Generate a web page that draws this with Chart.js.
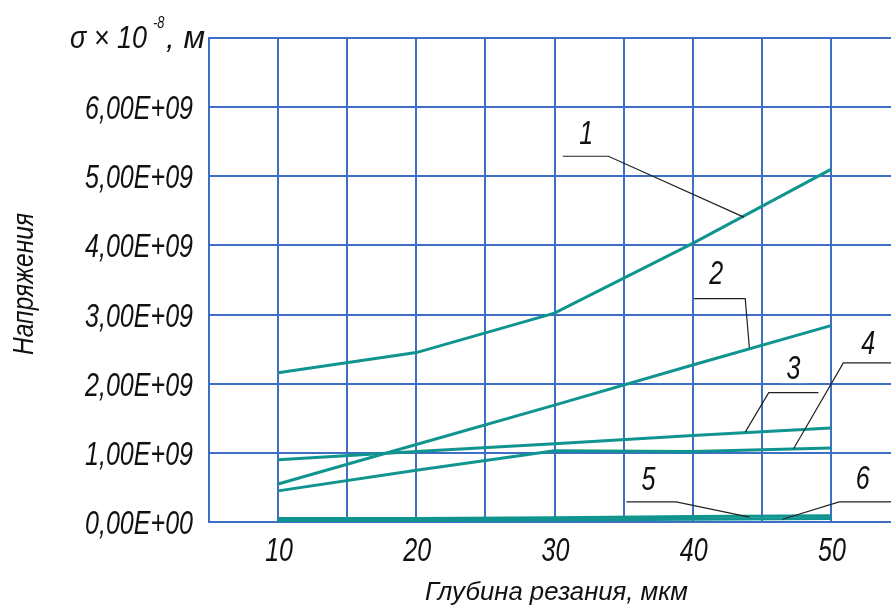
<!DOCTYPE html>
<html>
<head>
<meta charset="utf-8">
<script src="https://cdn.jsdelivr.net/npm/chart.js@4/dist/chart.umd.min.js"></script>
<style>
  html, body { margin: 0; padding: 0; background: #fff; overflow: hidden; }
  canvas { display: block; }
</style>
</head>
<body>
<canvas id="chart" width="900" height="610"></canvas>
<script>
// глубина резания, мкм
const depth = [10, 20, 30, 40, 50];
// напряжения по кривым 1..6
const curve1 = [2.16e9, 2.45e9, 3.02e9, 4.03e9, 5.10e9];
const curve2 = [0.55e9, 1.12e9, 1.69e9, 2.27e9, 2.84e9];
const curve3 = [0.90e9, 1.02e9, 1.13e9, 1.25e9, 1.36e9];
const curve4 = [0.45e9, 0.75e9, 1.03e9, 1.02e9, 1.07e9];
const curve5 = [0.02e9, 0.02e9, 0.03e9, 0.04e9, 0.05e9];
const curve6 = [0.05e9, 0.05e9, 0.06e9, 0.08e9, 0.09e9];
const curves = [curve1, curve2, curve3, curve4, curve5, curve6];

// подписи осей
const xTickLabels = [10, 20, 30, 40, 50];
const xTitle = 'Глубина резания, мкм';
const yTitle = 'Напряжения';

// номера кривых и выноски (в единицах осей)
const labelNames = ['1', '2', '3', '4', '5', '6'];
const labelPos = [[32.3, 5.64e9], [41.7, 3.62e9], [47.3, 2.24e9], [52.7, 2.60e9], [36.8, 0.64e9], [52.3, 0.65e9]];
const leaders = [
  [[30.6, 5.29e9], [33.9, 5.29e9], [43.7, 4.41e9]],
  [[40.1, 3.23e9], [43.8, 3.23e9], [44.1, 2.52e9]],
  [[49.1, 1.87e9], [45.5, 1.87e9], [43.8, 1.30e9]],
  [[54.6, 2.30e9], [50.9, 2.30e9], [47.3, 1.06e9]],
  [[35.2, 0.29e9], [38.8, 0.29e9], [44.1, 0.07e9]],
  [[54.6, 0.29e9], [50.6, 0.29e9], [46.5, 0.04e9]]
];

const gridBlue = '#3f6fc4';
const teal = '#0f9490';
const fam = '"Liberation Sans", Arimo, sans-serif';

const datasets = curves.map((c, i) => ({
  label: labelNames[i],
  data: depth.map((d, k) => ({ x: d, y: c[k] })),
  borderColor: teal,
  borderWidth: 3,
  pointRadius: 0,
  tension: 0,
  fill: false
}));

function fmtY(v) {
  return (v / 1e9).toFixed(2).replace('.', ',') + (v === 0 ? 'E+00' : 'E+09');
}

// узкий наклонный шрифт: сжимаем по горизонтали
function narrow(ctx, s, x, y, size, sx, align, rot) {
  ctx.save();
  ctx.translate(x, y);
  if (rot) ctx.rotate(rot);
  ctx.scale(sx, 1);
  ctx.font = 'italic ' + size + 'px ' + fam;
  ctx.textAlign = align;
  ctx.textBaseline = 'alphabetic';
  ctx.fillStyle = '#111';
  ctx.fillText(s, 0, 0);
  ctx.restore();
}
function fitScale(ctx, s, size, width) {
  ctx.font = 'italic ' + size + 'px ' + fam;
  return width / ctx.measureText(s).width;
}

const texts = {
  id: 'texts',
  afterDatasetsDraw(chart) {
    const ctx = chart.ctx;
    const xs = chart.scales.x, ys = chart.scales.y;
    ctx.save();
    const sx = fitScale(ctx, '6,00E+09', 33, 108);

    // подписи делений оси Y
    ys.ticks.forEach(t => {
      if (t.value >= 7e9) return;
      narrow(ctx, fmtY(t.value), ys.right - 16, ys.getPixelForValue(t.value) + 12, 33, sx, 'right');
    });
    // подписи делений оси X
    xTickLabels.forEach(v => {
      narrow(ctx, String(v), xs.getPixelForValue(v) + 1, xs.top + 39, 33, sx, 'center');
    });
    // названия осей
    narrow(ctx, xTitle, (xs.left + xs.right) / 2 + 2, 600, 26, fitScale(ctx, xTitle, 26, 263), 'center');
    narrow(ctx, yTitle, 33, (ys.top + ys.bottom) / 2 + 4, 30, fitScale(ctx, yTitle, 30, 142), 'center', -Math.PI / 2);

    // σ × 10^-8, м
    const top = ys.getPixelForValue(7e9);
    narrow(ctx, 'σ × 10', 70, top + 10, 32, fitScale(ctx, 'σ × 10', 32, 77), 'left');
    narrow(ctx, '-8', 153, top - 10, 16, 0.8, 'left');
    narrow(ctx, ', м', 166, top + 10, 32, fitScale(ctx, ', м', 32, 39), 'left');

    // выноски
    ctx.strokeStyle = '#222';
    ctx.lineWidth = 1.2;
    leaders.forEach(pts => {
      ctx.beginPath();
      pts.forEach((p, i) => {
        const px = xs.getPixelForValue(p[0]), py = ys.getPixelForValue(p[1]);
        if (i === 0) ctx.moveTo(px, py); else ctx.lineTo(px, py);
      });
      ctx.stroke();
    });
    // номера кривых
    labelNames.forEach((t, i) => {
      const px = xs.getPixelForValue(labelPos[i][0]), py = ys.getPixelForValue(labelPos[i][1]);
      if (t === '3') {
        ctx.fillStyle = '#fff';
        ctx.fillRect(px - 13, py - 16, 26, 32);
      }
      narrow(ctx, t, px, py + 12, 33, sx, 'center');
    });
    ctx.restore();
  }
};

new Chart(document.getElementById('chart'), {
  type: 'line',
  data: { datasets },
  options: {
    responsive: false,
    animation: false,
    layout: { padding: { top: 38, right: 0, left: 0, bottom: 0 } },
    plugins: { legend: { display: false }, tooltip: { enabled: false } },
    scales: {
      x: {
        type: 'linear',
        min: 5,
        max: 55,
        afterFit(scale) { scale.height = 88; },
        ticks: { stepSize: 5, display: false },
        grid: { color: gridBlue, lineWidth: 2, drawTicks: false },
        border: { color: gridBlue, width: 2 }
      },
      y: {
        min: 0,
        max: 7e9,
        afterFit(scale) { scale.width = 209; },
        ticks: { stepSize: 1e9, display: false },
        grid: { color: gridBlue, lineWidth: 2, drawTicks: false },
        border: { color: gridBlue, width: 2 }
      }
    }
  },
  plugins: [texts]
});
</script>
</body>
</html>
